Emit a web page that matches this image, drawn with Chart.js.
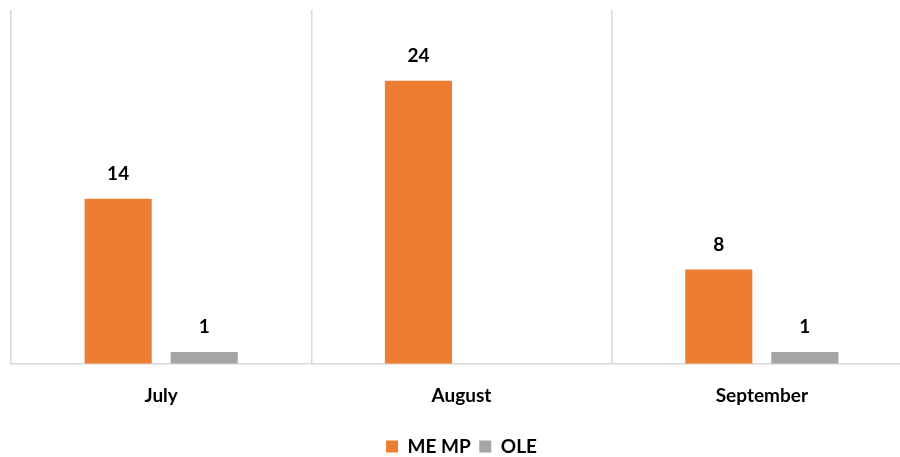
<!DOCTYPE html>
<html>
<head>
<meta charset="utf-8">
<script src="https://cdn.jsdelivr.net/npm/chart.js@4"></script>
<style>
  html, body { margin: 0; padding: 0; background: #fff; overflow: hidden; }
  #wrap { width: 900px; height: 457px; overflow: hidden; position: relative; }
  #barChart { display: block; }
</style>
</head>
<body>
<div id="wrap"><canvas id="barChart" width="912" height="457"></canvas></div>
<script>
var months = ['July', 'August', 'September'];
var memp = [14, 24, 8];
var ole = [1, null, 1];

// draw the value above each bar
var valueLabels = {
  id: 'valueLabels',
  afterDatasetsDraw: function (chart) {
    var ctx = chart.ctx;
    ctx.save();
    ctx.font = 'bold 19px Lato, "Liberation Sans", sans-serif';
    ctx.fillStyle = '#000';
    ctx.textAlign = 'center';
    ctx.textBaseline = 'middle';
    chart.data.datasets.forEach(function (ds, i) {
      chart.getDatasetMeta(i).data.forEach(function (bar, j) {
        if (ds.data[j] == null) return;
        ctx.fillText(ds.data[j], bar.x, bar.y - 25);
      });
    });
    ctx.restore();
  }
};

new Chart(document.getElementById('barChart').getContext('2d'), {
  type: 'bar',
  data: {
    labels: months,
    datasets: [
      { label: 'ME MP', backgroundColor: '#ED7D31', data: memp },
      { label: 'OLE', backgroundColor: '#A5A5A5', data: ole }
    ]
  },
  options: {
    responsive: false,
    animation: false,
    categoryPercentage: 0.573,
    barPercentage: 0.78,
    layout: { padding: { left: 11, top: 10, right: 0, bottom: -9 } },
    plugins: {
      tooltip: { enabled: false },
      legend: {
        position: 'bottom',
        labels: {
          boxWidth: 12,
          boxHeight: 12,
          padding: 8.5,
          color: '#000',
          font: { family: 'Lato, "Liberation Sans", sans-serif', size: 19, weight: 'bold' }
        }
      }
    },
    scales: {
      x: {
        grid: { color: '#d9d9d9', lineWidth: 1.5, drawTicks: false, offset: true },
        border: { color: '#d9d9d9', width: 1.5 },
        ticks: {
          padding: 21,
          color: '#000',
          font: { family: 'Lato, "Liberation Sans", sans-serif', size: 19, weight: 'bold' }
        }
      },
      y: {
        display: false,
        min: 0,
        max: 30
      }
    }
  },
  plugins: [valueLabels]
});
</script>
</body>
</html>
